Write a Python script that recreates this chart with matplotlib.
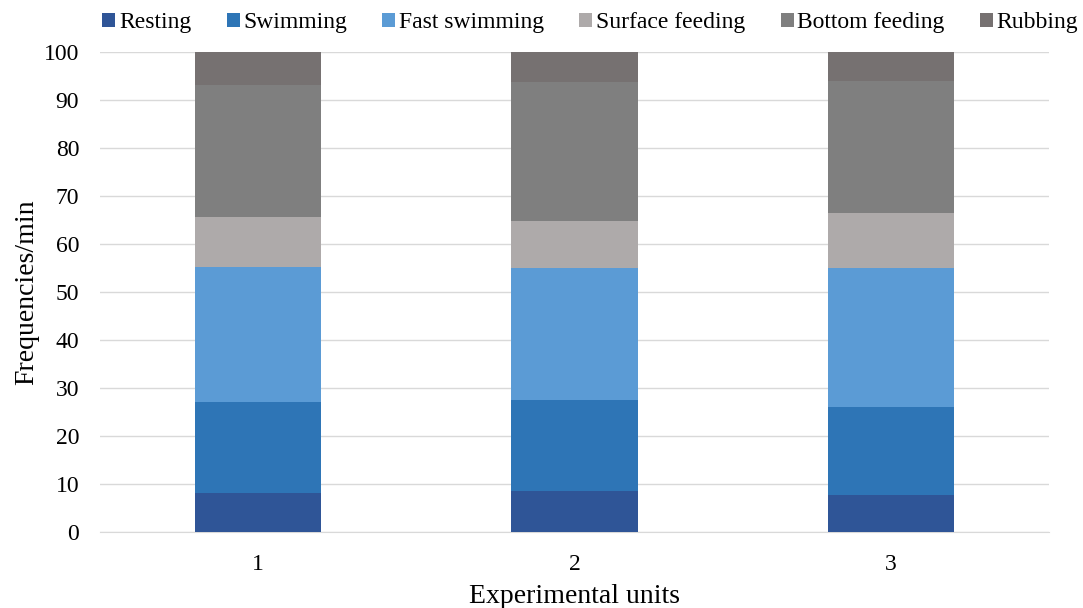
import numpy as np
import matplotlib
matplotlib.use("Agg")
import matplotlib.pyplot as plt

plt.rcParams['font.family'] = ['Liberation Serif', 'DejaVu Serif']

# dados
unidades = ['1', '2', '3']
categorias = ['Resting', 'Swimming', 'Fast swimming', 'Surface feeding', 'Bottom feeding', 'Rubbing']
resting = [8.1, 8.55, 7.65]
swimming = [19.0, 18.95, 18.45]
fast_swimming = [28.2, 27.6, 28.8]
surface_feeding = [10.4, 9.6, 11.5]
bottom_feeding = [27.5, 29.0, 27.6]
rubbing = [6.8, 6.3, 6.0]

series = [resting, swimming, fast_swimming, surface_feeding, bottom_feeding, rubbing]
cores = ['#2F5597', '#2E75B6', '#5B9BD5', '#AEAAAA', '#7F7F7F', '#767171']

fig = plt.figure(figsize=(10.83, 6.08), dpi=100)
ax = fig.add_axes([0.0923, 0.125, 0.8763, 0.7895])

x = np.arange(1, len(unidades) + 1)
base = np.zeros(len(unidades))
for nome, valores, cor in zip(categorias, series, cores):
    ax.bar(x, valores, 0.4, bottom=base, color=cor, label=nome, zorder=3)
    base = base + np.array(valores)

ax.set_xlim(0.5, 3.5)
ax.set_ylim(0, 100)
ax.set_yticks(np.arange(0, 101, 10))
ax.set_xticks(x)
ax.set_xticklabels(unidades)
ax.grid(axis='y', color='#D9D9D9', linewidth=1, zorder=0)
for lado in ['top', 'right', 'left']:
    ax.spines[lado].set_visible(False)
ax.spines['bottom'].set_color('#D9D9D9')
ax.tick_params(axis='both', length=0, labelsize=17)
ax.tick_params(axis='y', pad=15)
ax.tick_params(axis='x', pad=16)

ax.set_xlabel('Experimental units', fontsize=20, labelpad=6)
ax.set_ylabel('Frequencies/min', fontsize=20, labelpad=3)

fig.legend(loc='upper center', bbox_to_anchor=(0.545, 1.015), ncol=6, frameon=False,
           fontsize=17, handlelength=0.55, handleheight=0.55, handletextpad=0.15,
           columnspacing=1.5)

fig.savefig('out.png', dpi=100)
